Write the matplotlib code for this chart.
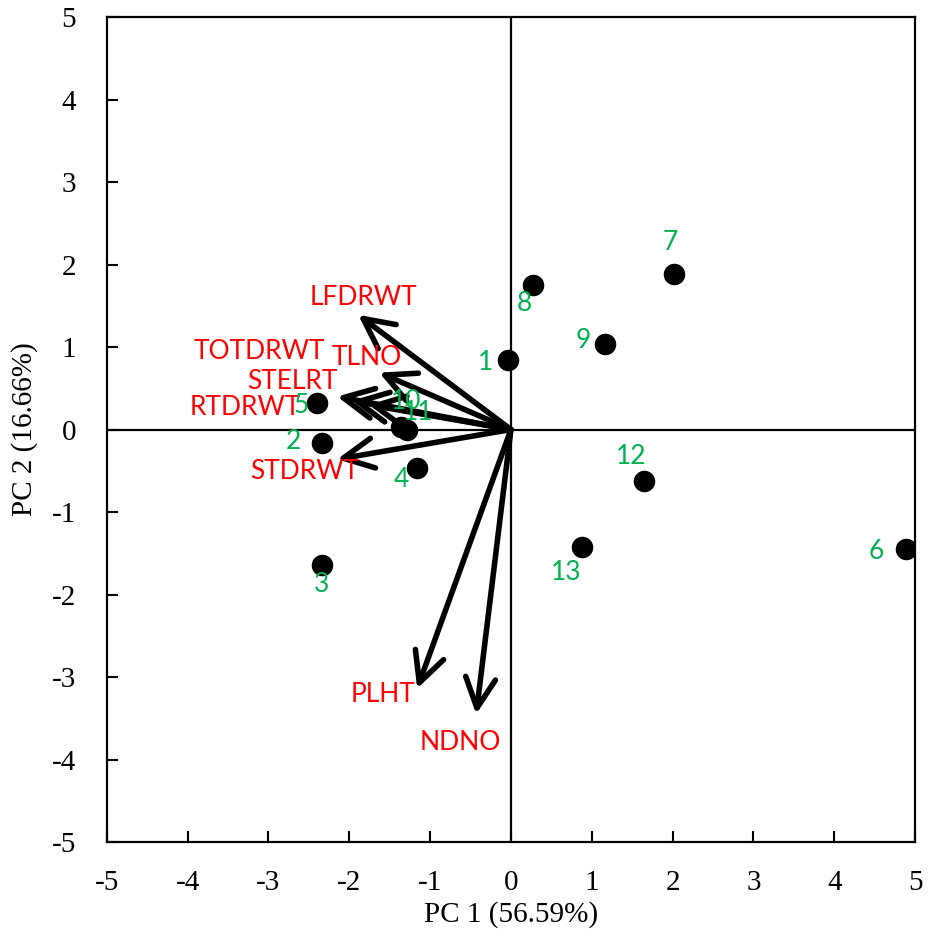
import numpy as np
import matplotlib.pyplot as plt

plt.rcParams['axes.unicode_minus'] = False

# genotype scores on the first two components
geno = ['1', '2', '3', '4', '5', '6', '7', '8', '9', '10', '11', '12', '13']
pc1 = [-0.04, -2.34, -2.34, -1.16, -2.40, 4.89, 2.02, 0.27, 1.16, -1.36, -1.28, 1.65, 0.88]
pc2 = [0.84, -0.16, -1.64, -0.47, 0.32, -1.45, 1.89, 1.75, 1.04, 0.03, 0.00, -0.62, -1.42]
# where the genotype numbers sit
gx = [-0.32, -2.69, -2.34, -1.36, -2.59, 4.52, 1.97, 0.16, 0.89, -1.30, -1.15, 1.49, 0.68]
gy = [0.81, -0.15, -1.88, -0.61, 0.29, -1.48, 2.27, 1.53, 1.08, 0.34, 0.21, -0.33, -1.73]

# trait loading vectors
traits = ['LFDRWT', 'TLNO', 'STELRT', 'TOTDRWT', 'RTDRWT', 'STDRWT', 'PLHT', 'NDNO']
vx = [-1.89, -1.63, -2.15, -1.97, -1.76, -2.15, -1.16, -0.43]
vy = [1.39, 0.69, 0.40, 0.35, 0.30, -0.36, -3.14, -3.45]
tx = [-1.83, -1.78, -2.71, -3.11, -3.29, -2.55, -1.58, -0.63]
ty = [1.60, 0.87, 0.58, 0.95, 0.27, -0.51, -3.21, -3.79]

ticks = [-5, -4, -3, -2, -1, 0, 1, 2, 3, 4, 5]

fig = plt.figure(figsize=(9.29, 9.36), dpi=100)
ax = fig.add_axes([0.115, 0.1004, 0.870, 0.8814])

ax.axhline(0, color='black', lw=1.6, zorder=1)
ax.axvline(0, color='black', lw=1.6, zorder=1)

for i in range(len(traits)):
    ax.annotate('', xy=(vx[i], vy[i]), xytext=(0, 0),
                arrowprops=dict(arrowstyle='->,head_length=0.9,head_width=0.45',
                                mutation_scale=24, lw=4.0, color='black',
                                shrinkA=0, shrinkB=0), zorder=3)
    ax.text(tx[i], ty[i], traits[i], color='red', fontsize=19, family='Lato',
            ha='center', va='center', zorder=4)

ax.scatter(pc1, pc2, s=210, color='black', zorder=5)
for i in range(len(geno)):
    ax.text(gx[i], gy[i], geno[i], color='#00B050', fontsize=19, family='Lato',
            ha='center', va='center', zorder=6)

ax.set_xlim(-5, 5)
ax.set_ylim(-5, 5)
ax.set_xticks(ticks)
ax.set_yticks(ticks)
ax.tick_params(direction='in', length=8, width=1.5, labelsize=21)
ax.tick_params(axis='x', pad=20)
ax.tick_params(axis='y', pad=22)
for lab in ax.get_xticklabels() + ax.get_yticklabels():
    lab.set_family('Liberation Serif')
for s in ax.spines.values():
    s.set_linewidth(1.6)

ax.set_xlabel('PC 1 (56.59%)', family='Liberation Serif', fontsize=21, labelpad=4)
ax.set_ylabel('PC 2 (16.66%)', family='Liberation Serif', fontsize=21, labelpad=10)

fig.savefig('out.png', dpi=100)
